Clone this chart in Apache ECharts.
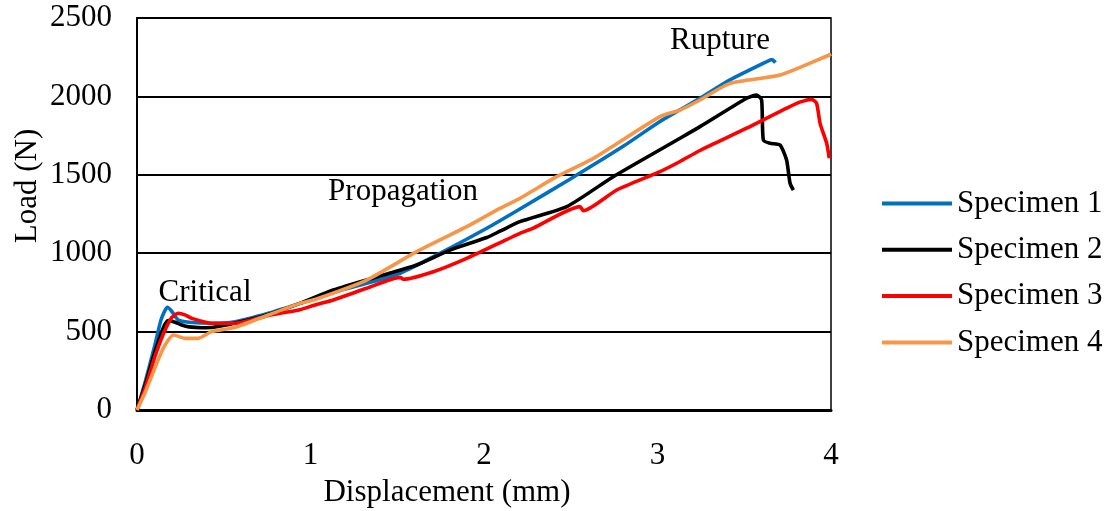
<!DOCTYPE html>
<html>
<head>
<meta charset="utf-8">
<script src="https://cdn.jsdelivr.net/npm/echarts@6/dist/echarts.min.js"></script>
<style>
  html, body { margin: 0; padding: 0; background: #fff; }
  #chart { width: 1107px; height: 511px; }
</style>
</head>
<body>
<div id="chart"></div>
<script>
// Displacement (mm) vs Load (N)
const specimen1 = [[0,0],[0.05,190],[0.1,400],[0.14,580],[0.175,655],[0.2,630],[0.238,574],[0.3,560],[0.43,553],[0.565,563],[0.757,617],[0.939,680],[1.026,710],[1.131,750],[1.324,808],[1.516,872],[1.746,999],[2.016,1159],[2.207,1282],[2.5,1475],[2.8,1680],[3.014,1840],[3.13,1915],[3.245,1988],[3.418,2105],[3.629,2221],[3.66,2235],[3.68,2215]];
const specimen2 = [[0,0],[0.05,170],[0.1,360],[0.15,520],[0.18,570],[0.22,560],[0.258,542],[0.3,530],[0.373,525],[0.44,528],[0.565,555],[0.757,610],[0.939,680],[1.131,765],[1.42,861],[1.612,925],[1.804,1020],[2.016,1100],[2.092,1140],[2.207,1201],[2.477,1297],[2.745,1488],[3.13,1733],[3.245,1807],[3.514,1988],[3.572,2009],[3.6,1977],[3.61,1722],[3.648,1701],[3.706,1690],[3.744,1594],[3.764,1446],[3.783,1403]];
const specimen3 = [[0,0],[0.05,150],[0.1,330],[0.15,480],[0.2,590],[0.238,617],[0.28,605],[0.315,585],[0.43,553],[0.57,553],[0.757,603],[0.939,640],[1.026,670],[1.131,702],[1.324,776],[1.516,846],[1.535,834],[1.708,882],[1.9,967],[2.207,1127],[2.284,1160],[2.553,1297],[2.573,1271],[2.765,1403],[3.014,1520],[3.13,1585],[3.245,1655],[3.514,1797],[3.802,1956],[3.888,1981],[3.917,1956],[3.937,1828],[3.975,1701],[3.99,1605]];
const specimen4 = [[0,0],[0.05,120],[0.1,260],[0.15,390],[0.18,446],[0.21,478],[0.277,457],[0.353,457],[0.43,500],[0.565,527],[0.757,606],[0.939,680],[1.026,705],[1.324,829],[1.612,1010],[1.9,1169],[2.092,1286],[2.207,1350],[2.419,1488],[2.63,1605],[3.014,1871],[3.13,1913],[3.245,1977],[3.418,2083],[3.706,2136],[3.99,2264],[4.0,2270]];
const seriesNames = ['Specimen 1','Specimen 2','Specimen 3','Specimen 4'];
const annotations = [['Critical',0.392,746],['Propagation',1.533,1390],['Rupture',3.36,2353]];
const xTicks = [0,1,2,3,4];
const yTicks = [0,500,1000,1500,2000,2500];

const FONT = '"Liberation Serif", "Times New Roman", serif';
const FS = 31;
const TXT = '#000';
const colors = ['#0070C0','#000000','#FF0000','#F79646'];
const allData = [specimen1, specimen2, specimen3, specimen4];

const chart = echarts.init(document.getElementById('chart'));
const series = allData.map((d, i) => ({
  name: seriesNames[i],
  type: 'line',
  data: d,
  showSymbol: false,
  symbol: 'none',
  smooth: 0.2,
  lineStyle: { width: 3.6, color: colors[i] },
  itemStyle: { color: colors[i] },
  z: 3
}));
series.push({
  type: 'scatter',
  data: annotations.map(a => ({ value: [a[1], a[2]], name: a[0] })),
  symbolSize: 0,
  silent: true,
  z: 5,
  itemStyle: { opacity: 1, color: 'transparent' },
  label: {
    show: true,
    position: 'inside',
    formatter: p => p.name,
    fontFamily: FONT,
    fontSize: FS,
    color: TXT,
    opacity: 1
  }
});

chart.setOption({
  animation: false,
  backgroundColor: '#fff',
  grid: { left: 137, right: 276, top: 18, bottom: 101, show: true, borderColor: '#000', borderWidth: 1.5 },
  legend: {
    data: seriesNames,
    orient: 'vertical',
    left: 877,
    top: 183,
    icon: 'rect',
    itemWidth: 70,
    itemHeight: 4,
    itemGap: 15.3,
    textStyle: { fontFamily: FONT, fontSize: FS, color: TXT, lineHeight: 31 }
  },
  xAxis: {
    type: 'value',
    min: xTicks[0],
    max: xTicks[xTicks.length - 1],
    interval: 1,
    axisLine: { show: true, lineStyle: { color: '#000', width: 3 } },
    axisTick: { show: false },
    splitLine: { show: false },
    axisLabel: { fontFamily: FONT, fontSize: FS, color: TXT, margin: 30 }
  },
  yAxis: {
    type: 'value',
    min: yTicks[0],
    max: yTicks[yTicks.length - 1],
    interval: 500,
    axisLine: { show: true, lineStyle: { color: '#000', width: 2 } },
    axisTick: { show: false },
    splitLine: { show: true, lineStyle: { color: '#000', width: 2 } },
    axisLabel: { fontFamily: FONT, fontSize: FS, color: TXT, margin: 25, formatter: v => String(v) }
  },
  graphic: [
    {
      type: 'text',
      x: 447, y: 493,
      style: { text: 'Displacement (mm)', font: FS + 'px ' + FONT, fill: TXT, textAlign: 'center', textVerticalAlign: 'middle' }
    },
    {
      type: 'text',
      x: 28, y: 186,
      rotation: Math.PI / 2,
      style: { text: 'Load (N)', font: FS + 'px ' + FONT, fill: TXT, textAlign: 'center', textVerticalAlign: 'middle' }
    }
  ],
  series: series
});
</script>
</body>
</html>
